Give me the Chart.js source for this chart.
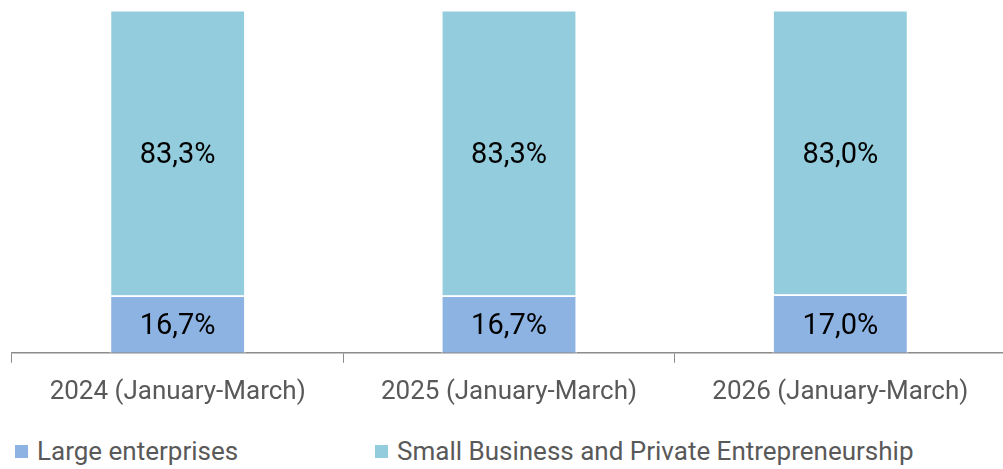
<!DOCTYPE html>
<html>
<head>
<meta charset="utf-8">
<script src="https://cdn.jsdelivr.net/npm/chart.js@4.4.1/dist/chart.umd.min.js"></script>
<style>
  html, body { margin: 0; padding: 0; background: #fff; overflow: hidden; }
  #wrap { position: relative; width: 1006px; height: 422px; }
  #legend { position: absolute; top: 433px; left: 0; font-family: Roboto, sans-serif; font-size: 26px; color: #595959; }
  .item { position: absolute; white-space: nowrap; line-height: 36px; }
  .box { display: inline-block; width: 13px; height: 13px; margin-right: 9px; vertical-align: 2px; }
</style>
</head>
<body>
<div id="wrap"><canvas id="shareChart"></canvas></div>
<div id="legend"></div>
<script>
const categories = ['2024 (January-March)', '2025 (January-March)', '2026 (January-March)'];
const largeShare = [16.7, 16.7, 17.0];
const smallShare = [83.3, 83.3, 83.0];
const seriesNames = ['Large enterprises', 'Small Business and Private Entrepreneurship'];
const seriesColors = ['#8db3e2', '#93cddd'];

// values in the middle of every segment
const barLabels = {
    id: 'barLabels',
    afterDatasetsDraw(chart) {
        const ctx = chart.ctx;
        ctx.save();
        ctx.font = '29px Roboto';
        ctx.fillStyle = '#000';
        ctx.textAlign = 'center';
        ctx.textBaseline = 'middle';
        chart.data.datasets.forEach((ds, i) => {
            chart.getDatasetMeta(i).data.forEach((bar, j) => {
                const mid = (bar.y + bar.base) / 2;
                ctx.fillText(ds.data[j].toFixed(1).replace('.', ',') + '%', bar.x, mid + 3);
            });
        });
        ctx.restore();
    }
};

var ctx = document.getElementById('shareChart').getContext('2d');
var shareChart = new Chart(ctx, {
    type: 'bar',
    data: {
        labels: categories,
        datasets: [{
            label: seriesNames[0],
            data: largeShare,
            backgroundColor: seriesColors[0],
            borderColor: '#ffffff',
            borderWidth: 1.5
        }, {
            label: seriesNames[1],
            data: smallShare,
            backgroundColor: seriesColors[1],
            borderColor: '#ffffff',
            borderWidth: 1.5
        }]
    },
    options: {
        responsive: true,
        maintainAspectRatio: false,
        animation: false,
        layout: { padding: { left: 12, top: 10, right: 0, bottom: 0 } },
        datasets: { bar: { categoryPercentage: 1, barPercentage: 0.41 } },
        scales: {
            x: {
                stacked: true,
                border: { color: '#8c8c8c', width: 1.5 },
                grid: { display: true, drawOnChartArea: false, drawTicks: true, tickLength: 10, color: '#8c8c8c', offset: true },
                ticks: { color: '#595959', font: { family: 'Roboto', size: 26 }, padding: 14 }
            },
            y: {
                stacked: true,
                display: false,
                min: 0,
                max: 100
            }
        },
        plugins: {
            legend: { display: false },
            tooltip: { enabled: false }
        }
    },
    plugins: [barLabels]
});

// legend, placed like the original
const legendPos = [15, 375];
const legend = document.getElementById('legend');
seriesNames.forEach((name, i) => {
    const el = document.createElement('div');
    el.className = 'item';
    el.style.left = legendPos[i] + 'px';
    el.innerHTML = '<span class="box" style="background:' + seriesColors[i] + '"></span>' + name;
    legend.appendChild(el);
});
</script>
</body>
</html>
